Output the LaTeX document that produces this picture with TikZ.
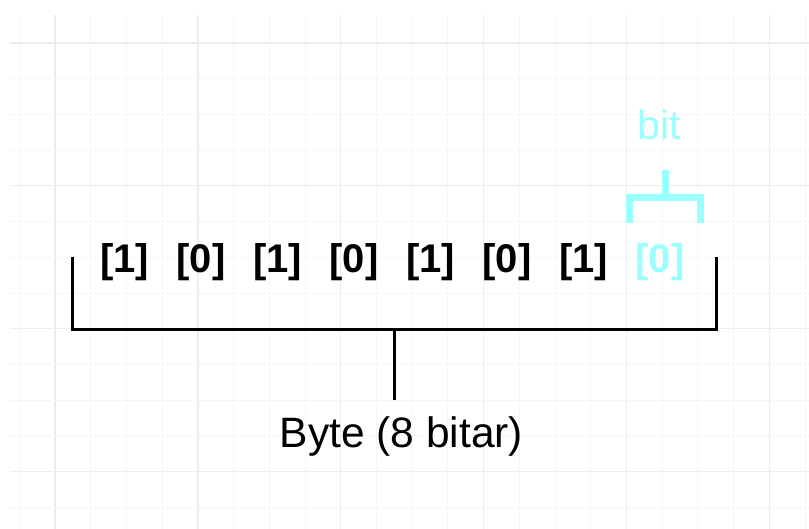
\documentclass[tikz,border=0pt]{standalone}
\usepackage{fontspec}
\setmainfont{Liberation Sans}
\definecolor{bitcyan}{RGB}{153,255,255}
\definecolor{gridmajor}{RGB}{236,236,236}
\definecolor{gridminor}{RGB}{246,246,246}
\tikzset{
  bitlabel/.style={inner sep=0pt, anchor=base, font=\fontsize{40}{40}\selectfont\bfseries, text=black},
  brace/.style={draw=black, line width=3pt},
  bitbrace/.style={draw=bitcyan, line width=7pt},
}
\begin{document}
\begin{tikzpicture}[x=1pt,y=-1pt]
\useasboundingbox (0,0) rectangle (809,529);
\fill[white] (0,0) rectangle (809,529);
% grid
\foreach \k in {0,...,22} {
  \pgfmathsetmacro{\xx}{19.3+35.72*\k}
  \pgfmathtruncatemacro{\m}{mod(\k,4)}
  \ifnum\m=1
    \draw[gridmajor, line width=1.2pt] (\xx,15) -- (\xx,529);
  \else
    \draw[gridminor, line width=1pt] (\xx,15) -- (\xx,529);
  \fi
}
\foreach \k in {0,...,13} {
  \pgfmathsetmacro{\yy}{43+35.72*\k}
  \pgfmathtruncatemacro{\m}{mod(\k,4)}
  \ifnum\m=0
    \draw[gridmajor, line width=1.2pt] (10,\yy) -- (809,\yy);
  \else
    \draw[gridminor, line width=1pt] (10,\yy) -- (809,\yy);
  \fi
}
% bits
\node[bitlabel] (b1) at (124.5,273) {[1]};
\node[bitlabel] (b2) at (201,273) {[0]};
\node[bitlabel] (b3) at (277.5,273) {[1]};
\node[bitlabel] (b4) at (354,273) {[0]};
\node[bitlabel] (b5) at (430.5,273) {[1]};
\node[bitlabel] (b6) at (507,273) {[0]};
\node[bitlabel] (b7) at (583.5,273) {[1]};
\node[bitlabel, text=bitcyan] (b8) at (660,273) {[0]};
% byte brace
\coordinate (bl) at (72.5,257);
\coordinate (br) at (716,257);
\coordinate (bm) at (394.5,329.5);
\coordinate (bs) at (394.5,400);
\draw[brace] (bl) |- (br |- bm) -- (br);
\draw[brace] (bm) -- (bs);
\node[inner sep=0pt, anchor=base, font=\fontsize{42.5}{42.5}\selectfont] (byte) at (401.5,447.3) {Byte (8 bitar)};
% bit brace
\coordinate (cl) at (629.5,223);
\coordinate (cr) at (700.5,223);
\coordinate (cm) at (665,197.5);
\coordinate (cs) at (665,170);
\draw[bitbrace] (cl) |- (cr |- cm) -- (cr);
\draw[bitbrace] (cm) -- (cs);
\node[inner sep=0pt, anchor=base, font=\fontsize{41}{41}\selectfont, text=bitcyan] (bitlbl) at (659.5,139.3) {bit};
\end{tikzpicture}
\end{document}
